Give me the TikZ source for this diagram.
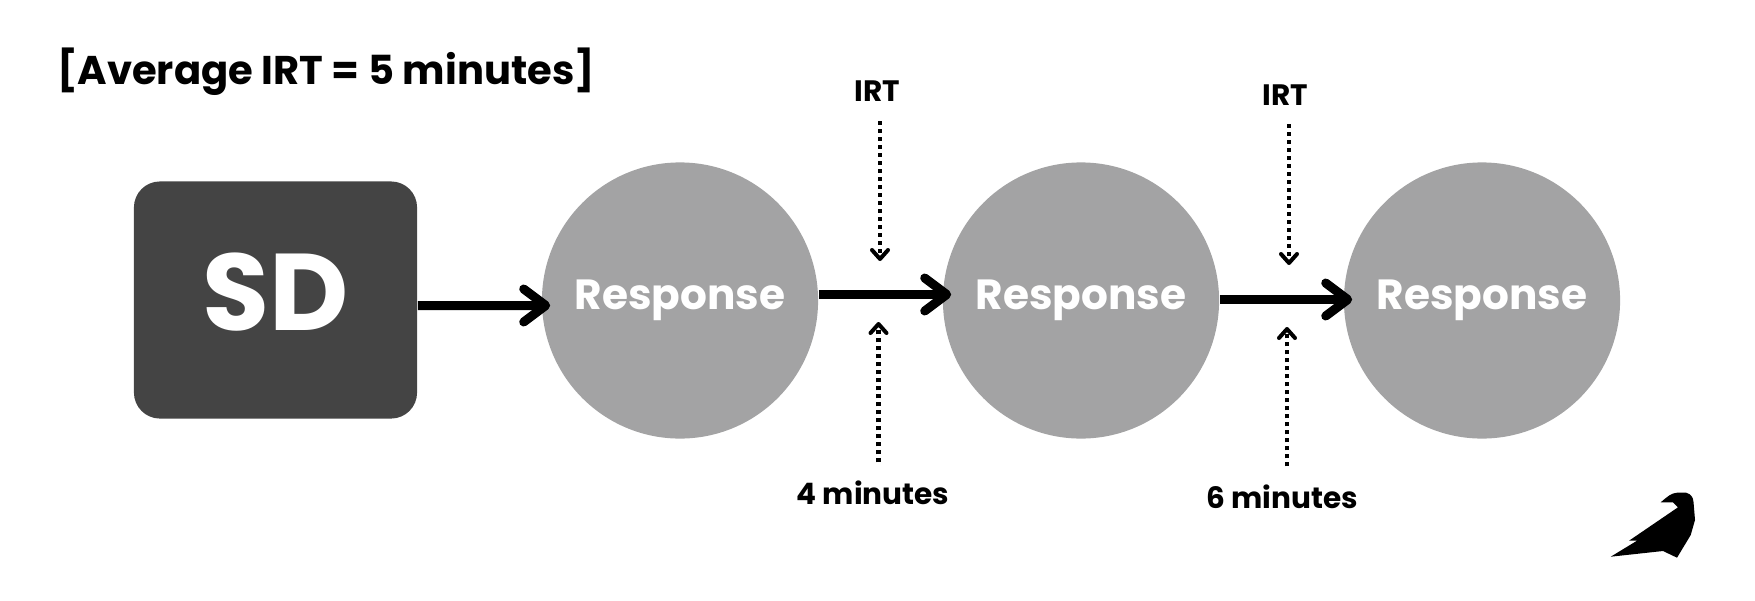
\documentclass[tikz,border=0pt]{standalone}
\usepackage{fontspec}
\setmainfont{Poppins}
\usetikzlibrary{arrows.meta}
\definecolor{boxgray}{HTML}{444444}
\definecolor{circgray}{HTML}{A3A3A4}
\tikzset{
	response/.style = {circle, fill = circgray, text = white, minimum size = 2.76cm, inner sep = 0, font = \bfseries\fontsize{12}{14}\selectfont},
	stimulus/.style = {fill = boxgray, text = white, rounded corners = 0.26cm, minimum width = 2.83cm, minimum height = 2.37cm, inner sep = 0, font = \bfseries\fontsize{31}{33}\selectfont},
	label/.style = {inner sep = 0, font = \bfseries\fontsize{8.4}{10}\selectfont},
	flow/.style = {line width = 0.09cm, -{Straight Barb[length = 0.22cm, width = 0.33cm, round]}},
	gap/.style = {line width = 0.042cm, dash pattern = on 0.04cm off 0.04cm, -{Straight Barb[length = 0.09cm, width = 0.16cm, round, line width = 0.04cm]}}
}
\begin{document}
\begin{tikzpicture}[x = 0.01cm, y = -0.01cm]
		\useasboundingbox (0,0) rectangle (1755,600);

		\node[inner sep = 0, font = \bfseries\fontsize{11.4}{14}\selectfont] (title) at (326,72) {[Average IRT = 5 minutes]};

		\node[stimulus] (sd) at (275.5,300) {\raisebox{0.17cm}{SD}};
		\node[response] (resp1) at (680,300.5) {Response};
		\node[response] (resp2) at (1081,300.5) {Response};
		\node[response] (resp3) at (1482,300.5) {Response};

		\draw[flow] ([yshift = -0.055cm]sd.east) -- ([xshift = 0.09cm, yshift = -0.05cm]resp1.west);
		\draw[flow] ([yshift = 0.06cm]resp1.east) -- ([xshift = 0.09cm, yshift = 0.06cm]resp2.west);
		\draw[flow] ([yshift = 0.01cm]resp2.east) -- ([xshift = 0.09cm, yshift = 0.01cm]resp3.west);

		\node[label] (irt1) at (877,91) {IRT};
		\node[label] (irt2) at (1285,95) {IRT};
		\node[label] (min4) at (873,493) {4 minutes};
		\node[label] (min6) at (1282,497) {6 minutes};

		\coordinate (top1) at (880,261);
		\coordinate (bot1) at (878.5,322);
		\coordinate (top2) at (1289,265);
		\coordinate (bot2) at (1287,327);

		\draw[gap] (irt1.south -| top1) ++(0,19) -- (top1);
		\draw[gap] (min4.north -| bot1) ++(0,-18) -- (bot1);
		\draw[gap] (irt2.south -| top2) ++(0,18) -- (top2);
		\draw[gap] (min6.north -| bot2) ++(0,-18) -- (bot2);

		\fill (1660.7,502.3) .. controls (1667,497) and (1671,493) .. (1677,492.7)
			-- (1686,492.7) .. controls (1691,494) and (1693,497) .. (1693.5,502)
			-- (1695,520) -- (1690.7,535) -- (1677,557.7) -- (1663,551) -- (1610.7,556.7)
			-- (1637,540.7) -- (1629,540.7) -- (1678,507.3) -- (1673,502.3) -- cycle;
	\end{tikzpicture}
\end{document}
